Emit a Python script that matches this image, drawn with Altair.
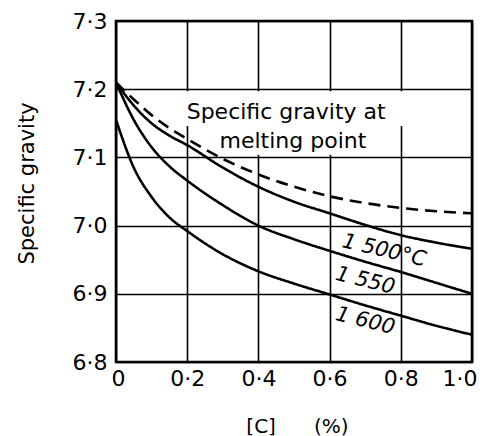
import altair as alt
import pandas as pd

# ---- data ----
carbon = [0.0, 0.05, 0.1, 0.15, 0.2, 0.3, 0.4, 0.5, 0.6, 0.7, 0.8, 0.9, 1.0]
sg_melting = [7.21, 7.185, 7.162, 7.143, 7.127, 7.098, 7.075, 7.057, 7.043, 7.033, 7.026, 7.021, 7.018]
sg_1500 = [7.21, 7.176, 7.150, 7.132, 7.118, 7.085, 7.057, 7.035, 7.018, 7.001, 6.986, 6.975, 6.966]
sg_1550 = [7.21, 7.155, 7.115, 7.087, 7.066, 7.030, 7.000, 6.980, 6.963, 6.947, 6.932, 6.916, 6.900]
sg_1600 = [7.155, 7.085, 7.042, 7.012, 6.992, 6.958, 6.933, 6.915, 6.899, 6.883, 6.868, 6.853, 6.840]

series_names = ["melting", "1500", "1550", "1600"]
series_values = [sg_melting, sg_1500, sg_1550, sg_1600]
series_dash = ["dashed", "solid", "solid", "solid"]

curve_labels = ["1 500°C", "1 550", "1 600"]
curve_label_x = [0.753, 0.70, 0.70]
curve_label_y = [6.963, 6.919, 6.860]
curve_label_angle = [13, 14, 14]

note_lines = ["Specific gravity at", "melting point"]
note_x = [0.478, 0.497]
note_y = [7.167, 7.124]

# white backing boxes behind the annotation (grid is hidden there)
box_x = [0.15, 0.29]
box_x2 = [0.82, 0.72]
box_y = [7.197, 7.146]
box_y2 = [7.146, 7.104]

rows = []
for name, vals, dash in zip(series_names, series_values, series_dash):
    for c, v in zip(carbon, vals):
        rows.append({"C": c, "SG": v, "series": name, "dash": dash})
df = pd.DataFrame(rows)

labels_df = pd.DataFrame({"x": curve_label_x, "y": curve_label_y,
                          "text": curve_labels, "angle": curve_label_angle})
note_df = pd.DataFrame({"x": note_x, "y": note_y, "text": note_lines})
box_df = pd.DataFrame({"x": box_x, "x2": box_x2, "y": box_y, "y2": box_y2})

FONT = "DejaVu Sans"

xscale = alt.Scale(domain=[0, 1], nice=False, zero=False)
yscale = alt.Scale(domain=[6.8, 7.3], nice=False, zero=False)

x_axis = alt.Axis(
    values=[0, 0.2, 0.4, 0.6, 0.8, 1.0],
    labelExpr="datum.value == 0 ? '0' : replace(format(datum.value, '.1f'), '.', '·')",
    title="[C]\u00a0\u00a0\u00a0\u00a0\u00a0\u00a0(%)",
    titleX=181, titleY=64, titleBaseline="middle", titleAlign="center",
    titleFontSize=20, titleFontWeight="normal", titleFont=FONT,
    labelFontSize=22, labelFont=FONT, labelPadding=6, labelColor="black",
    grid=True, gridColor="black", gridWidth=1.6, gridOpacity=1,
    ticks=False, domain=False, labelFlush=True, labelFlushOffset=5, labelOverlap=False,
)
y_axis = alt.Axis(
    values=[6.8, 6.9, 7.0, 7.1, 7.2, 7.3],
    labelExpr="replace(format(datum.value, '.1f'), '.', '·')",
    title="Specific gravity",
    titleX=-89, titleY=162, titleAngle=270, titleBaseline="middle", titleAlign="center",
    titleFontSize=21, titleFontWeight="normal", titleFont=FONT,
    labelFontSize=22, labelFont=FONT, labelPadding=9, labelColor="black",
    grid=True, gridColor="black", gridWidth=1.6, gridOpacity=1,
    ticks=False, domain=False, labelFlush=False, labelOverlap=False,
)

boxes = alt.Chart(box_df).mark_rect(fill="white", stroke=None).encode(
    x=alt.X("x:Q", scale=xscale, axis=x_axis),
    x2="x2:Q",
    y=alt.Y("y:Q", scale=yscale, axis=y_axis),
    y2="y2:Q",
)

lines = alt.Chart(df).mark_line(color="black", strokeWidth=2.6, interpolate="monotone").encode(
    x=alt.X("C:Q", scale=xscale),
    y=alt.Y("SG:Q", scale=yscale),
    detail="series:N",
    strokeDash=alt.StrokeDash("dash:N", scale=alt.Scale(domain=["solid", "dashed"], range=[[1, 0], [12, 7]]), legend=None),
)

curve_text = alt.Chart(labels_df).mark_text(font=FONT, fontSize=21, fontStyle="italic",
                                            color="black", align="center", baseline="middle").encode(
    x=alt.X("x:Q", scale=xscale),
    y=alt.Y("y:Q", scale=yscale),
    text="text:N",
    angle=alt.Angle("angle:Q", scale=None),
)

note_text = alt.Chart(note_df).mark_text(font=FONT, fontSize=22, color="black",
                                         align="center", baseline="middle").encode(
    x=alt.X("x:Q", scale=xscale),
    y=alt.Y("y:Q", scale=yscale),
    text="text:N",
)

chart = alt.layer(boxes, lines, curve_text, note_text).properties(
    width=356, height=341,
    autosize=alt.AutoSizeParams(type="none"),
    padding={"left": 116, "top": 21, "right": 16, "bottom": 74},
    background="white",
).configure_view(stroke="black", strokeWidth=2.6)

chart.save("out.html", embed_options={"renderer": "svg", "actions": False})
